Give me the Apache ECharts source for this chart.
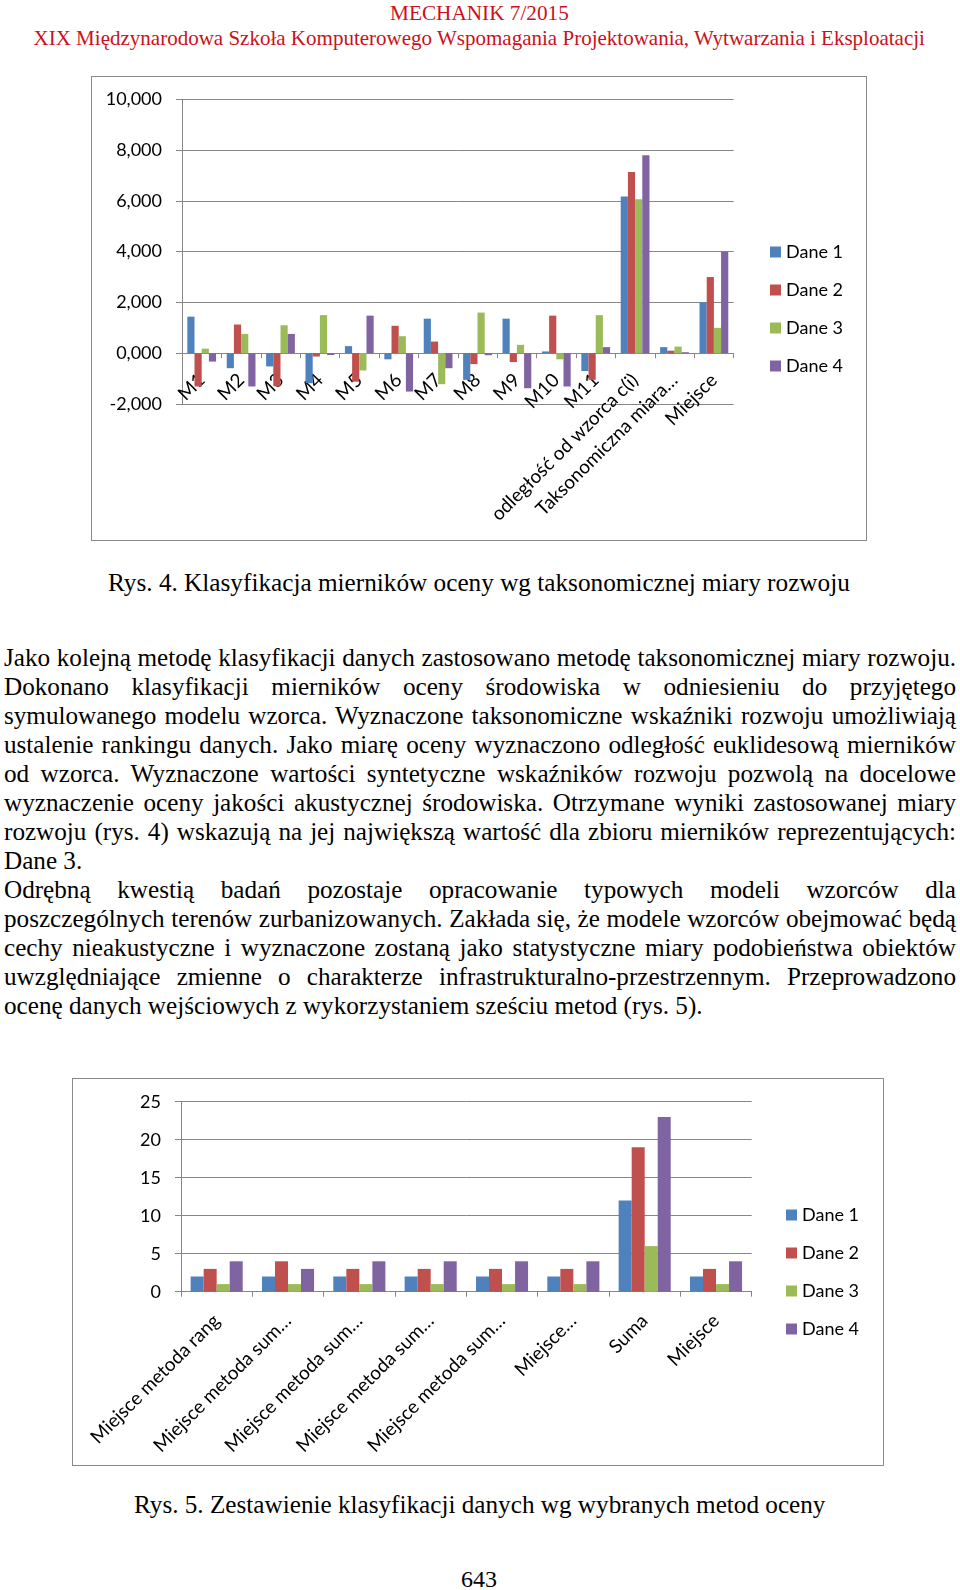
<!DOCTYPE html>
<html><head><meta charset="utf-8">
<script src="https://cdn.jsdelivr.net/npm/echarts@6/dist/echarts.min.js"></script>
<style>
html,body{margin:0;padding:0;background:#fff;}
body{width:960px;height:1590px;position:relative;overflow:hidden;}
.t{position:absolute;white-space:nowrap;line-height:1;color:#000;}
.box{position:absolute;border:1px solid #8a8a8a;background:#fff;}
</style></head><body>
<div id="c1" class="box" style="left:91px;top:76px;width:774px;height:463px"></div>
<div id="c2" class="box" style="left:72px;top:1078px;width:810px;height:386px"></div>
<script>
// ---------- Chart 1 data (Rys. 4) ----------
const categories1 = ['M1','M2','M3','M4','M5','M6','M7','M8','M9','M10','M11','odległość od wzorca c(i)','Taksonomiczna miara…','Miejsce'];
const dane1_c1 = [1.44, -0.59, -0.52, -1.18, 0.28, -0.24, 1.36, -1.05, 1.36, 0.07, -0.70, 6.17, 0.24, 2];
const dane2_c1 = [-1.31, 1.13, -1.30, -0.13, -1.12, 1.08, 0.46, -0.43, -0.35, 1.48, -1.05, 7.14, 0.10, 3];
const dane3_c1 = [0.18, 0.76, 1.10, 1.50, -0.68, 0.67, -1.22, 1.60, 0.33, -0.24, 1.50, 6.06, 0.26, 1];
const dane4_c1 = [-0.33, -1.31, 0.76, -0.07, 1.48, -1.51, -0.59, -0.08, -1.38, -1.31, 0.24, 7.80, 0.04, 4];
const yTicks1 = {min: -2, max: 10, interval: 2};

// ---------- Chart 2 data (Rys. 5) ----------
const categories2 = ['Miejsce metoda rang','Miejsce metoda sum…','Miejsce metoda sum…','Miejsce metoda sum…','Miejsce metoda sum…','Miejsce…','Suma','Miejsce'];
const dane1_c2 = [2, 2, 2, 2, 2, 2, 12, 2];
const dane2_c2 = [3, 4, 3, 3, 3, 3, 19, 3];
const dane3_c2 = [1, 1, 1, 1, 1, 1, 6, 1];
const dane4_c2 = [4, 3, 4, 4, 4, 4, 23, 4];
const yTicks2 = {min: 0, max: 25, interval: 5};

const seriesNames = ['Dane 1','Dane 2','Dane 3','Dane 4'];
const COLORS = ['#4F81BD','#C0504D','#9BBB59','#8064A2'];
const AX = '#868686';
const FONT = 'Lato';

function buildOption(cats, data, yt, grid, legendPos, lblMargin, fmt) {
  return {
    animation: false,
    color: COLORS,
    grid: Object.assign({containLabel: false, outerBoundsMode: 'none'}, grid),
    legend: {
      orient: 'vertical', left: legendPos.left, top: legendPos.top,
      icon: 'rect', itemWidth: 11, itemHeight: 11, itemGap: 20,
      textStyle: {fontFamily: FONT, fontSize: 18, color: '#000'},
      data: seriesNames
    },
    xAxis: {
      type: 'category', data: cats,
      axisLine: {show: true, onZero: true, lineStyle: {color: AX, width: 1}},
      axisTick: {show: true, length: 5, alignWithLabel: false, lineStyle: {color: AX}},
      axisLabel: {interval: 0, rotate: 45, fontFamily: FONT, fontSize: 19, color: '#000',
                  margin: lblMargin, align: 'right', padding: [48, 0, 0, 0], hideOverlap: false},
      splitLine: {show: false}
    },
    yAxis: {
      type: 'value', min: yt.min, max: yt.max, interval: yt.interval,
      axisLine: {show: true, lineStyle: {color: AX, width: 1}},
      axisTick: {show: true, length: 6, lineStyle: {color: AX}},
      axisLabel: {fontFamily: FONT, fontSize: 18, color: '#000', margin: 20, formatter: fmt},
      splitLine: {show: true, lineStyle: {color: AX, width: 1}}
    },
    series: data.map((d, i) => ({
      name: seriesNames[i], type: 'bar', data: d,
      barGap: '0%', barCategoryGap: '27%'
    }))
  };
}

const c1 = echarts.init(document.getElementById('c1'), null, {renderer: 'canvas'});
c1.setOption(buildOption(categories1, [dane1_c1, dane2_c1, dane3_c1, dane4_c1], yTicks1,
  {left: 90, top: 22.3, width: 551.6, height: 304.7}, {left: 673, top: 161}, -27,
  v => v.toFixed(3).replace('.', ',')));

const c2 = echarts.init(document.getElementById('c2'), null, {renderer: 'canvas'});
c2.setOption(buildOption(categories2, [dane1_c2, dane2_c2, dane3_c2, dane4_c2], yTicks2,
  {left: 108, top: 22.7, width: 570.7, height: 190}, {left: 708, top: 122}, 26,
  v => String(v)));

// ---------- Text ----------
const header1 = 'MECHANIK 7/2015';
const header2 = 'XIX Międzynarodowa Szkoła Komputerowego Wspomagania Projektowania, Wytwarzania i Eksploatacji';
const caption1 = 'Rys. 4. Klasyfikacja mierników oceny wg taksonomicznej miary rozwoju';
const caption2 = 'Rys. 5. Zestawienie klasyfikacji danych wg wybranych metod oceny';
const pageNo = '643';
const bodyLines = [
  ['Jako kolejną metodę klasyfikacji danych zastosowano metodę taksonomicznej miary rozwoju.', true],
  ['Dokonano klasyfikacji mierników oceny środowiska w odniesieniu do przyjętego', true],
  ['symulowanego modelu wzorca. Wyznaczone taksonomiczne wskaźniki rozwoju umożliwiają', true],
  ['ustalenie rankingu danych. Jako miarę oceny wyznaczono odległość euklidesową mierników', true],
  ['od wzorca. Wyznaczone wartości syntetyczne wskaźników rozwoju pozwolą na docelowe', true],
  ['wyznaczenie oceny jakości akustycznej środowiska. Otrzymane wyniki zastosowanej miary', true],
  ['rozwoju (rys. 4) wskazują na jej największą wartość dla zbioru mierników reprezentujących:', true],
  ['Dane 3.', false],
  ['Odrębną kwestią badań pozostaje opracowanie typowych modeli wzorców dla', true],
  ['poszczególnych terenów zurbanizowanych. Zakłada się, że modele wzorców obejmować będą', true],
  ['cechy nieakustyczne i wyznaczone zostaną jako statystyczne miary podobieństwa obiektów', true],
  ['uwzględniające zmienne o charakterze infrastrukturalno-przestrzennym. Przeprowadzono', true],
  ['ocenę danych wejściowych z wykorzystaniem sześciu metod (rys. 5).', false]
];

const SERIF = '"Liberation Serif", "Times New Roman", Tinos, "Nimbus Roman", serif';

function mk(text, x, baseline, fs, color) {
  const d = document.createElement('div');
  d.className = 't';
  d.textContent = text;
  d.style.fontFamily = SERIF;
  d.style.fontSize = fs + 'px';
  d.style.color = color || '#000';
  d.style.left = x + 'px';
  d.style.top = (baseline - 0.8375 * fs) + 'px';
  document.body.appendChild(d);
  return d;
}
// choose the font size so that the line's natural width matches the target width
function mkFit(text, x, baseline, target, color) {
  const d = mk(text, x, baseline, 20, color);
  const w = d.getBoundingClientRect().width;
  const fs = 20 * target / w;
  d.style.fontSize = fs + 'px';
  d.style.top = (baseline - 0.8375 * fs) + 'px';
  return d;
}
const RED = '#cc1020';
mkFit(header1, 390, 20.7, 179, RED);
mkFit(header2, 33.5, 45.7, 892, RED);
mkFit(caption1, 108, 590.7, 742);
mkFit(caption2, 134, 1513, 692);
mkFit(pageNo, 461, 1587, 36);

// body: common font size derived from the last (unjustified) line width
const BODY_X = 4, BODY_W = 952, BASE0 = 666.5, STEP = 29.0;
const probe = mk(bodyLines[12][0], -2000, 0, 20);
const BODY_FS = 20 * 699 / probe.getBoundingClientRect().width;
probe.remove();
bodyLines.forEach((ln, i) => {
  const d = mk(ln[0], BODY_X, BASE0 + i * STEP, BODY_FS);
  if (ln[1]) {
    d.style.width = BODY_W + 'px';
    d.style.textAlign = 'justify';
    d.style.textAlignLast = 'justify';
  }
});
</script>
</body></html>
